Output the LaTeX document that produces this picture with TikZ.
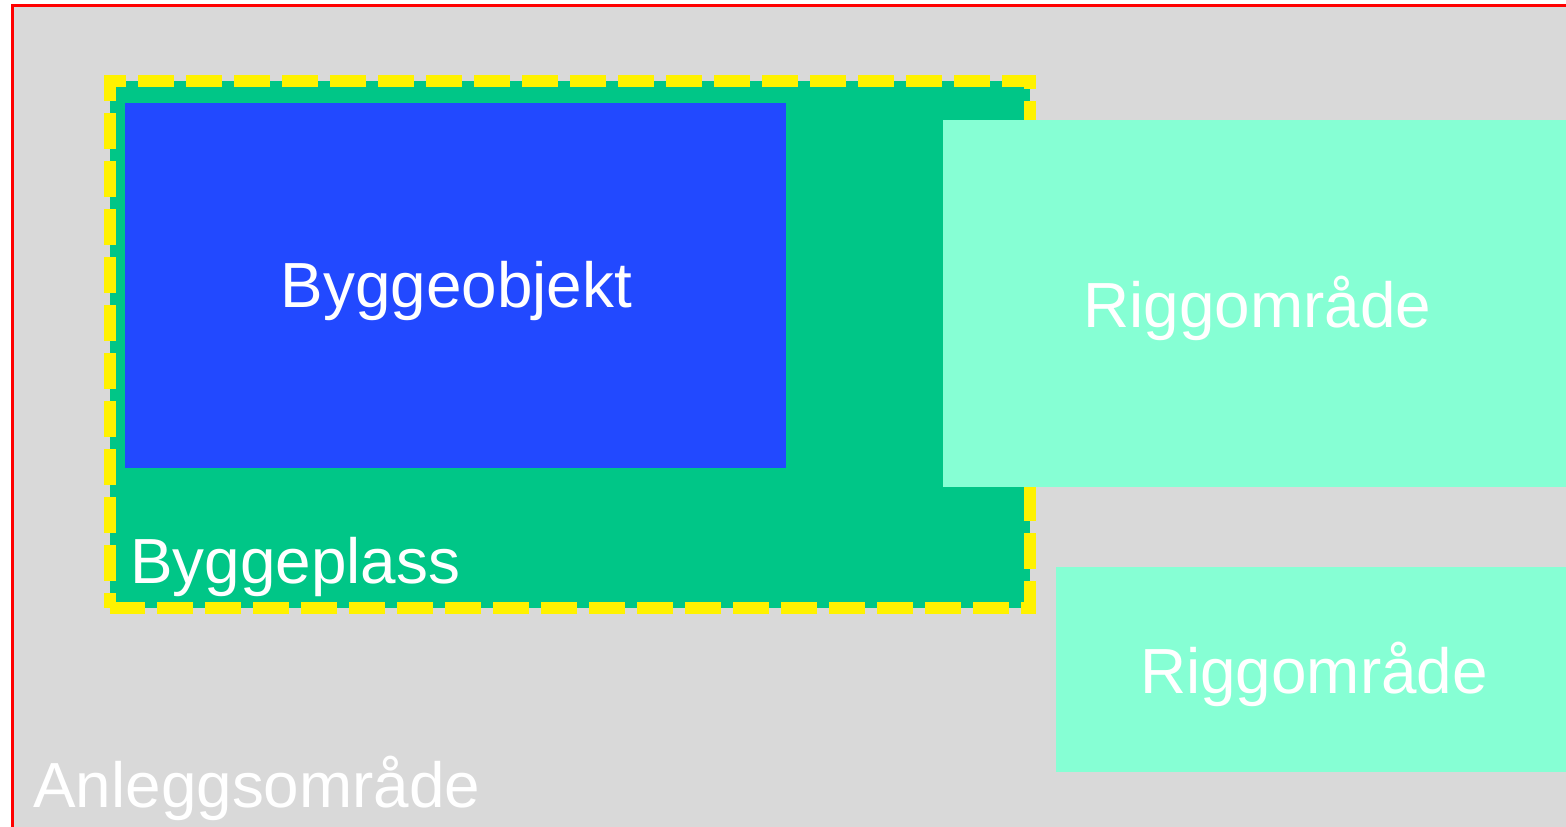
\documentclass[tikz,border=0pt]{standalone}
\usepackage{fontspec}
\setmainfont{Liberation Sans}
\usepackage{xcolor}
\usepackage{tikz}

\definecolor{areagray}{HTML}{D9D9D9}
\definecolor{sitegreen}{HTML}{00C687}
\definecolor{objblue}{HTML}{2249FF}
\definecolor{rigmint}{HTML}{86FFD4}

\tikzset{
  lbl/.style={inner sep=0pt, text=white, font=\fontsize{31.9}{38}\selectfont},
}

\begin{document}
\begin{tikzpicture}[x=0.5pt, y=-0.5pt]

                \useasboundingbox (0,0) rectangle (1566,826);
                \clip (0,0) rectangle (1566,826);

                % anleggsomraade
                \coordinate (a1) at (12.5,5.5);
                \coordinate (a2) at (1600,860);
                \draw[red, line width=1.5pt, fill=areagray] (a1) rectangle (a2);

                % byggeplass
                \coordinate (p1) at (110,608);
                \coordinate (p2) at (1030,81);
                \fill[sitegreen] (p1) rectangle (p2);
                \draw[yellow, line width=6pt, dash pattern=on 18pt off 6pt, dash phase=10.5pt] (p1) rectangle (p2);

                % byggeobjekt
                \coordinate (b1) at (125,103);
                \coordinate (b2) at (786,468);
                \fill[objblue] (b1) rectangle (b2);

                % riggomraader
                \coordinate (r1) at (943,120);
                \coordinate (r2) at (1600,487);
                \coordinate (r3) at (1056,567);
                \coordinate (r4) at (1600,772);
                \fill[rigmint] (r1) rectangle (r2);
                \fill[rigmint] (r3) rectangle (r4);

                \node[lbl, anchor=base] (objekt) at (456.5,307) {Byggeobjekt};
                \node[lbl, anchor=base] (rigg1) at (1257.5,327) {Riggområde};
                \node[lbl, anchor=base] (rigg2) at (1314,693) {Riggområde};
                \node[lbl, anchor=base west] (plass) at (130,583) {Byggeplass};
                \node[lbl, anchor=base west] (anlegg) at (33,807) {Anleggsområde};

\end{tikzpicture}
\end{document}
